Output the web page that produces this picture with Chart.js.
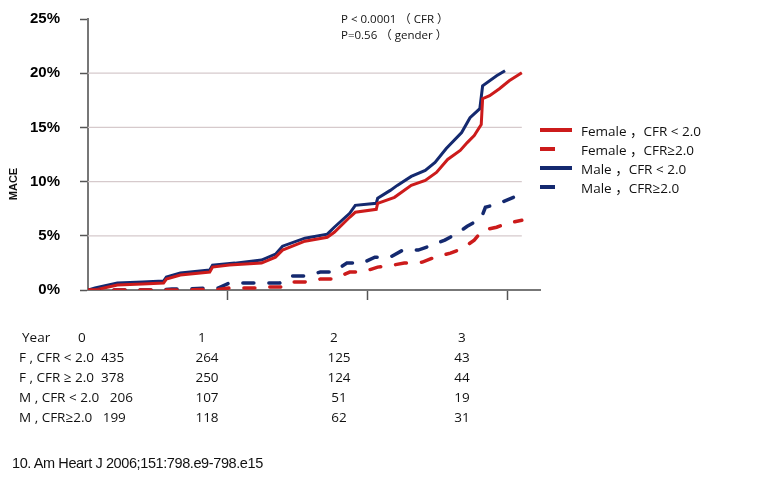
<!DOCTYPE html>
<html>
<head>
<meta charset="utf-8">
<script src="https://cdn.jsdelivr.net/npm/chart.js@4.4.1/dist/chart.umd.min.js"></script>
<style>
  html,body{margin:0;padding:0;background:#fff;}
  #wrap{position:relative;width:771px;height:480px;overflow:hidden;}
  #c{position:absolute;left:0;top:-10px;}
  .t{position:absolute;white-space:pre;color:#111;font-family:"Open Sans","Noto Sans CJK SC",sans-serif;}
  .leg{font-size:13.5px;}
  .tab{font-size:13.5px;}
  .sw{position:absolute;height:4px;}
</style>
</head>
<body>
<div id="wrap">
  <canvas id="c" width="771" height="480"></canvas>
</div>
<script>
// ---- data (years since enrollment, cumulative MACE %) ----
const femaleLowX  = [0,0.05,0.21,0.39,0.54,0.56,0.66,0.87,0.89,1.01,1.24,1.34,1.39,1.55,1.71,1.76,1.87,1.91,2.06,2.07,2.19,2.31,2.41,2.49,2.57,2.66,2.71,2.76,2.81,2.82,2.87,2.94,3.01,3.10];
const femaleLowY  = [0,0.00,0.46,0.55,0.64,1.01,1.38,1.65,2.11,2.30,2.48,3.03,3.68,4.50,4.87,5.33,6.71,7.17,7.44,8.00,8.55,9.65,10.11,10.85,12.04,12.87,13.60,14.25,15.26,17.65,17.92,18.57,19.30,20.04];
const femaleHighX = [0,0.71,0.84,0.93,1.01,1.21,1.24,1.39,1.44,1.55,1.66,1.75,1.87,1.96,2.07,2.18,2.26,2.39,2.48,2.59,2.68,2.76,2.82,2.92,3.00,3.10];
const femaleHighY = [0,0,0.05,0.05,0.18,0.18,0.28,0.28,0.74,0.74,1.01,1.01,1.65,1.65,2.11,2.30,2.48,2.57,3.03,3.40,3.86,4.60,5.51,5.79,6.16,6.43];
const maleLowX    = [0,0.05,0.21,0.39,0.54,0.56,0.66,0.87,0.89,1.05,1.24,1.34,1.39,1.55,1.71,1.76,1.87,1.91,2.06,2.07,2.16,2.21,2.31,2.41,2.48,2.56,2.67,2.73,2.80,2.82,2.92,2.98];
const maleLowY    = [0,0.18,0.64,0.74,0.83,1.19,1.56,1.84,2.30,2.48,2.76,3.31,4.04,4.78,5.15,5.79,7.08,7.81,8.00,8.46,9.19,9.65,10.48,11.03,11.76,13.05,14.52,15.90,16.73,18.84,19.76,20.22];
const maleHighX   = [0,0.30,0.51,0.60,0.71,0.84,0.93,1.01,1.37,1.44,1.55,1.66,1.75,1.85,1.96,2.05,2.16,2.25,2.36,2.46,2.55,2.64,2.71,2.81,2.84,2.94,3.04];
const maleHighY   = [0,0,0,0.09,0.09,0.18,0.18,0.64,0.64,1.29,1.29,1.65,1.65,2.48,2.48,3.03,3.03,3.68,3.68,4.14,4.60,5.24,5.88,6.62,7.63,8.00,8.55];

const seriesNames = ["Female，CFR < 2.0","Female，CFR≥2.0","Male，CFR < 2.0","Male，CFR≥2.0"];
const yTicks = [0,5,10,15,20,25];
const xTicks = [1,2,3];
const gridValues = [5,10,15,20];

const pValueLines = ["P < 0.0001 （ CFR ）","P=0.56 （ gender ）"];
const tableYears = ["0","1","2","3"];
const tableRowLabels = ["F，CFR < 2.0","F，CFR ≥ 2.0","M，CFR < 2.0 ","M，CFR≥2.0 "];
const tableCounts = [[435,264,125,43],[378,250,124,44],[206,107,51,19],[199,118,62,31]];
const citation = "10. Am Heart J 2006;151:798.e9-798.e15";

const RED = '#cc1b1b', BLUE = '#14296f';
const pts = (xs,ys)=>xs.map((x,i)=>({x:x,y:ys[i]}));

const gridPlugin = {
  id:'customGrid',
  beforeDatasetsDraw(chart){
    const {ctx, chartArea, scales:{x,y}} = chart;
    ctx.save();
    ctx.strokeStyle = '#d6cacc';
    ctx.lineWidth = 1.3;
    const xEnd = x.getPixelForValue(3.1);
    gridValues.forEach(v=>{
      const py = y.getPixelForValue(v);
      ctx.beginPath(); ctx.moveTo(chartArea.left, py); ctx.lineTo(xEnd, py); ctx.stroke();
    });
    ctx.restore();
  }
};

new Chart(document.getElementById('c'), {
  type:'line',
  data:{
    datasets:[
      {label:seriesNames[1], data:pts(femaleHighX,femaleHighY), borderColor:RED, borderWidth:3.5, borderDash:[11,15], borderCapStyle:'round'},
      {label:seriesNames[3], data:pts(maleHighX,maleHighY), borderColor:BLUE, borderWidth:3.5, borderDash:[11,15], borderCapStyle:'round'},
      {label:seriesNames[0], data:pts(femaleLowX,femaleLowY), borderColor:RED, borderWidth:3},
      {label:seriesNames[2], data:pts(maleLowX,maleLowY), borderColor:BLUE, borderWidth:3}
    ]
  },
  options:{
    responsive:false,
    animation:false,
    devicePixelRatio:1,
    layout:{padding:{left:0,top:8,right:231,bottom:0}},
    elements:{point:{radius:0},line:{tension:0,fill:false}},
    plugins:{legend:{display:false},tooltip:{enabled:false}},
    scales:{
      x:{
        type:'linear', min:0, max:3.23,
        afterFit(s){ s.height = 180; },
        afterBuildTicks(s){ s.ticks = xTicks.map(v=>({value:v})); },
        ticks:{display:false},
        grid:{drawOnChartArea:false, drawTicks:true, tickLength:10, tickColor:'#555', tickWidth:1.5},
        border:{color:'#777', width:2}
      },
      y:{
        type:'linear', min:0, max:25,
        afterFit(s){ s.width = 88; },
        afterBuildTicks(s){ s.ticks = yTicks.map(v=>({value:v})); },
        ticks:{callback:v=>v+'%', color:'#000', padding:20, font:{family:'"Liberation Sans", Arial, sans-serif', size:15, weight:'bold'}},
        grid:{drawOnChartArea:false, drawTicks:true, tickLength:8, tickColor:'#555', tickWidth:1.5},
        border:{color:'#777', width:2}
      }
    }
  },
  plugins:[gridPlugin]
});

// ---- HTML text overlays ----
const wrap = document.getElementById('wrap');
function addText(txt, left, top, cls, extra){
  const d = document.createElement('div');
  d.className = 't ' + (cls||'');
  d.textContent = txt;
  d.style.left = left + 'px';
  d.style.top = top + 'px';
  if (extra) Object.assign(d.style, extra);
  wrap.appendChild(d);
  return d;
}
// y-axis title
addText('MACE', -3, 178, '', {fontFamily:'"Liberation Sans",Arial,sans-serif', fontWeight:'bold', fontSize:'11px', transform:'rotate(-90deg)', transformOrigin:'center'});
// p-values
pValueLines.forEach((s,i)=>addText(s, 341, 10 + i*16, '', {fontSize:'11.5px'}));
// legend
const legColors = [RED,RED,BLUE,BLUE];
const legSolid = [true,false,true,false];
seriesNames.forEach((s,i)=>{
  const cy = 130 + i*19;
  const sw = document.createElement('div');
  sw.className = 'sw';
  sw.style.background = legColors[i];
  sw.style.left = '540px';
  sw.style.top = (cy-2) + 'px';
  sw.style.width = (legSolid[i] ? 32 : 15) + 'px';
  wrap.appendChild(sw);
  addText(s.replace('，',' ，'), 581, cy-10, 'leg');
});
// table
const yearCols = [78, 198, 330, 458];
addText('Year', 22, 328, 'tab');
tableYears.forEach((y,i)=>addText(y, yearCols[i], 328, 'tab'));
const countCenters = [207, 339, 462];
tableRowLabels.forEach((lab,r)=>{
  const top = 348 + r*20;
  addText(lab.replace('，',' , ') + '  ' + tableCounts[r][0], 19, top, 'tab');
  for (let c=1;c<4;c++){
    addText(String(tableCounts[r][c]), countCenters[c-1], top, 'tab', {transform:'translateX(-50%)'});
  }
});
addText(citation, 12, 455, '', {fontFamily:'"Liberation Sans",Arial,sans-serif', fontSize:'14.5px', letterSpacing:'-0.4px'});
</script>
</body>
</html>
